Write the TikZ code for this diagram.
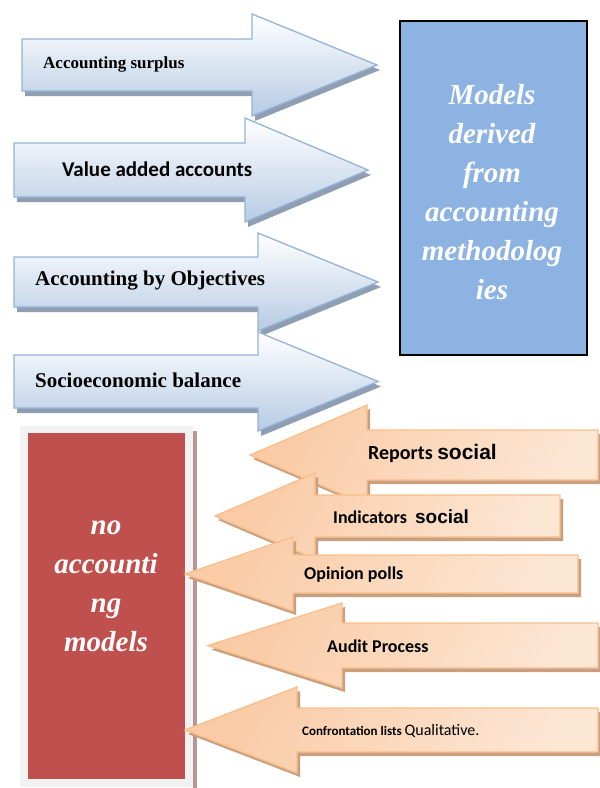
\documentclass[tikz,border=0pt]{standalone}
\usepackage{fontspec}
\setmainfont{Liberation Serif}
\newfontfamily\calibri{Carlito}
\newfontfamily\arial{Liberation Sans}
\usepackage{tikz}
\usetikzlibrary{calc}
\definecolor{blueBorder}{RGB}{149,179,215}
\definecolor{blueLow}{RGB}{182,203,228}
\definecolor{blueShadow}{RGB}{143,158,178}
\definecolor{orBorder}{RGB}{250,190,140}
\definecolor{orLow}{RGB}{250,203,165}
\definecolor{orHigh}{RGB}{252,230,212}
\definecolor{orShadow}{RGB}{200,160,128}
\definecolor{boxBlue}{RGB}{141,179,226}
\definecolor{boxRed}{RGB}{192,80,77}
\definecolor{frameGrey}{RGB}{242,242,242}
\definecolor{frameShadow}{RGB}{184,150,150}
% #1 colour set, #2 back x, #3 body top, #4 body bottom, #5 neck x, #6 head top, #7 tip x
\newcommand{\BigArrow}[7]{%
  \fill[#1Shad] (#2,#3) -- (#5,#3) -- (#5,#6) -- (#7,{(#3+#4)/2}) -- (#5,{#3+#4-#6}) -- (#5,#4) -- (#2,#4) -- cycle;
  \draw[#1Arr] (#2,#3) -- (#5,#3) -- (#5,#6) -- (#7,{(#3+#4)/2}) -- (#5,{#3+#4-#6}) -- (#5,#4) -- (#2,#4) -- cycle;}
\newcommand{\Fs}[1]{\fontsize{#1}{#1}\selectfont}

\begin{document}
\begin{tikzpicture}[x=1pt,y=-1pt,
    blueArr/.style={draw=blueBorder,line width=1.3pt,top color=white,bottom color=blueLow},
    blueShad/.style={fill=blueShadow,xshift=3pt,yshift=-5pt},
    orArr/.style={draw=orBorder,line width=1.3pt,left color=orLow,right color=orHigh,shading angle=60},
    orShad/.style={fill=orShadow,xshift=3pt,yshift=-4pt},
    lbl/.style={anchor=west,inner sep=0pt},
    boxtxt/.style={align=center,text=white,font=\bfseries\itshape\fontsize{29}{39}\selectfont}]

  \useasboundingbox (0,0) rectangle (600,788);

  % accounting models, arrows to the right
  \BigArrow{blue}{22}{39}{91}{252}{14}{377}
  \BigArrow{blue}{14}{143}{197}{245}{118}{368}
  \BigArrow{blue}{14}{257}{307}{258}{233}{378}
  \BigArrow{blue}{14}{355}{408}{258}{332}{378}

  \node[lbl] (surplus) at (43,64) {\Fs{17}\bfseries Accounting surplus};
  \node[lbl] (valueadd) at (62,169) {\calibri\Fs{21}\bfseries Value added accounts};
  \node[lbl] (objectives) at (35,281) {\Fs{21}\bfseries Accounting by Objectives};
  \node[lbl] (socioeco) at (35,380) {\Fs{21}\bfseries Socioeconomic balance};

  \node[draw=black,line width=1.5pt,fill=boxBlue,minimum width=187pt,minimum height=334pt,anchor=north west] (modelsbox) at (399,20) {};
  \node[boxtxt] (models) at (492,192) {Models\\derived\\from\\accounting\\methodolog\\ies};

  % no accounting models, arrows to the left
  \fill[frameShadow] (193,431) rectangle (197,788);
  \node[fill=frameGrey,minimum width=173pt,minimum height=361pt,anchor=north west,inner sep=0pt] (frame) at (20,426) {};
  \node[fill=boxRed,minimum width=157pt,minimum height=346pt,anchor=north west,inner sep=0pt] (nomodelsbox) at (28,433) {};
  \node[boxtxt] (nomodels) at (106,586) {no\\accounti\\ng\\models};

  \BigArrow{or}{598}{430}{480}{367}{405}{250}
  \BigArrow{or}{560}{495}{537}{315}{473}{215}
  \BigArrow{or}{578}{555}{593}{293}{537}{185}
  \BigArrow{or}{598}{623}{668}{342}{603}{208}
  \BigArrow{or}{598}{708}{752}{297}{687}{185}

  \node[lbl] (reports) at (368,453) {\calibri\Fs{20}\bfseries Reports \arial\Fs{21}social};
  \node[lbl] (indicators) at (333,517) {\calibri\Fs{18}\bfseries Indicators \ \arial\Fs{19}social};
  \node[lbl] (polls) at (304,575) {\calibri\Fs{18}\bfseries Opinion polls};
  \node[lbl] (audit) at (327,646) {\calibri\Fs{18}\bfseries Audit Process};
  \node[lbl] (lists) at (302,731) {\calibri\Fs{13}\bfseries Confrontation lists \mdseries\Fs{16}Qualitative.};
\end{tikzpicture}
\end{document}
